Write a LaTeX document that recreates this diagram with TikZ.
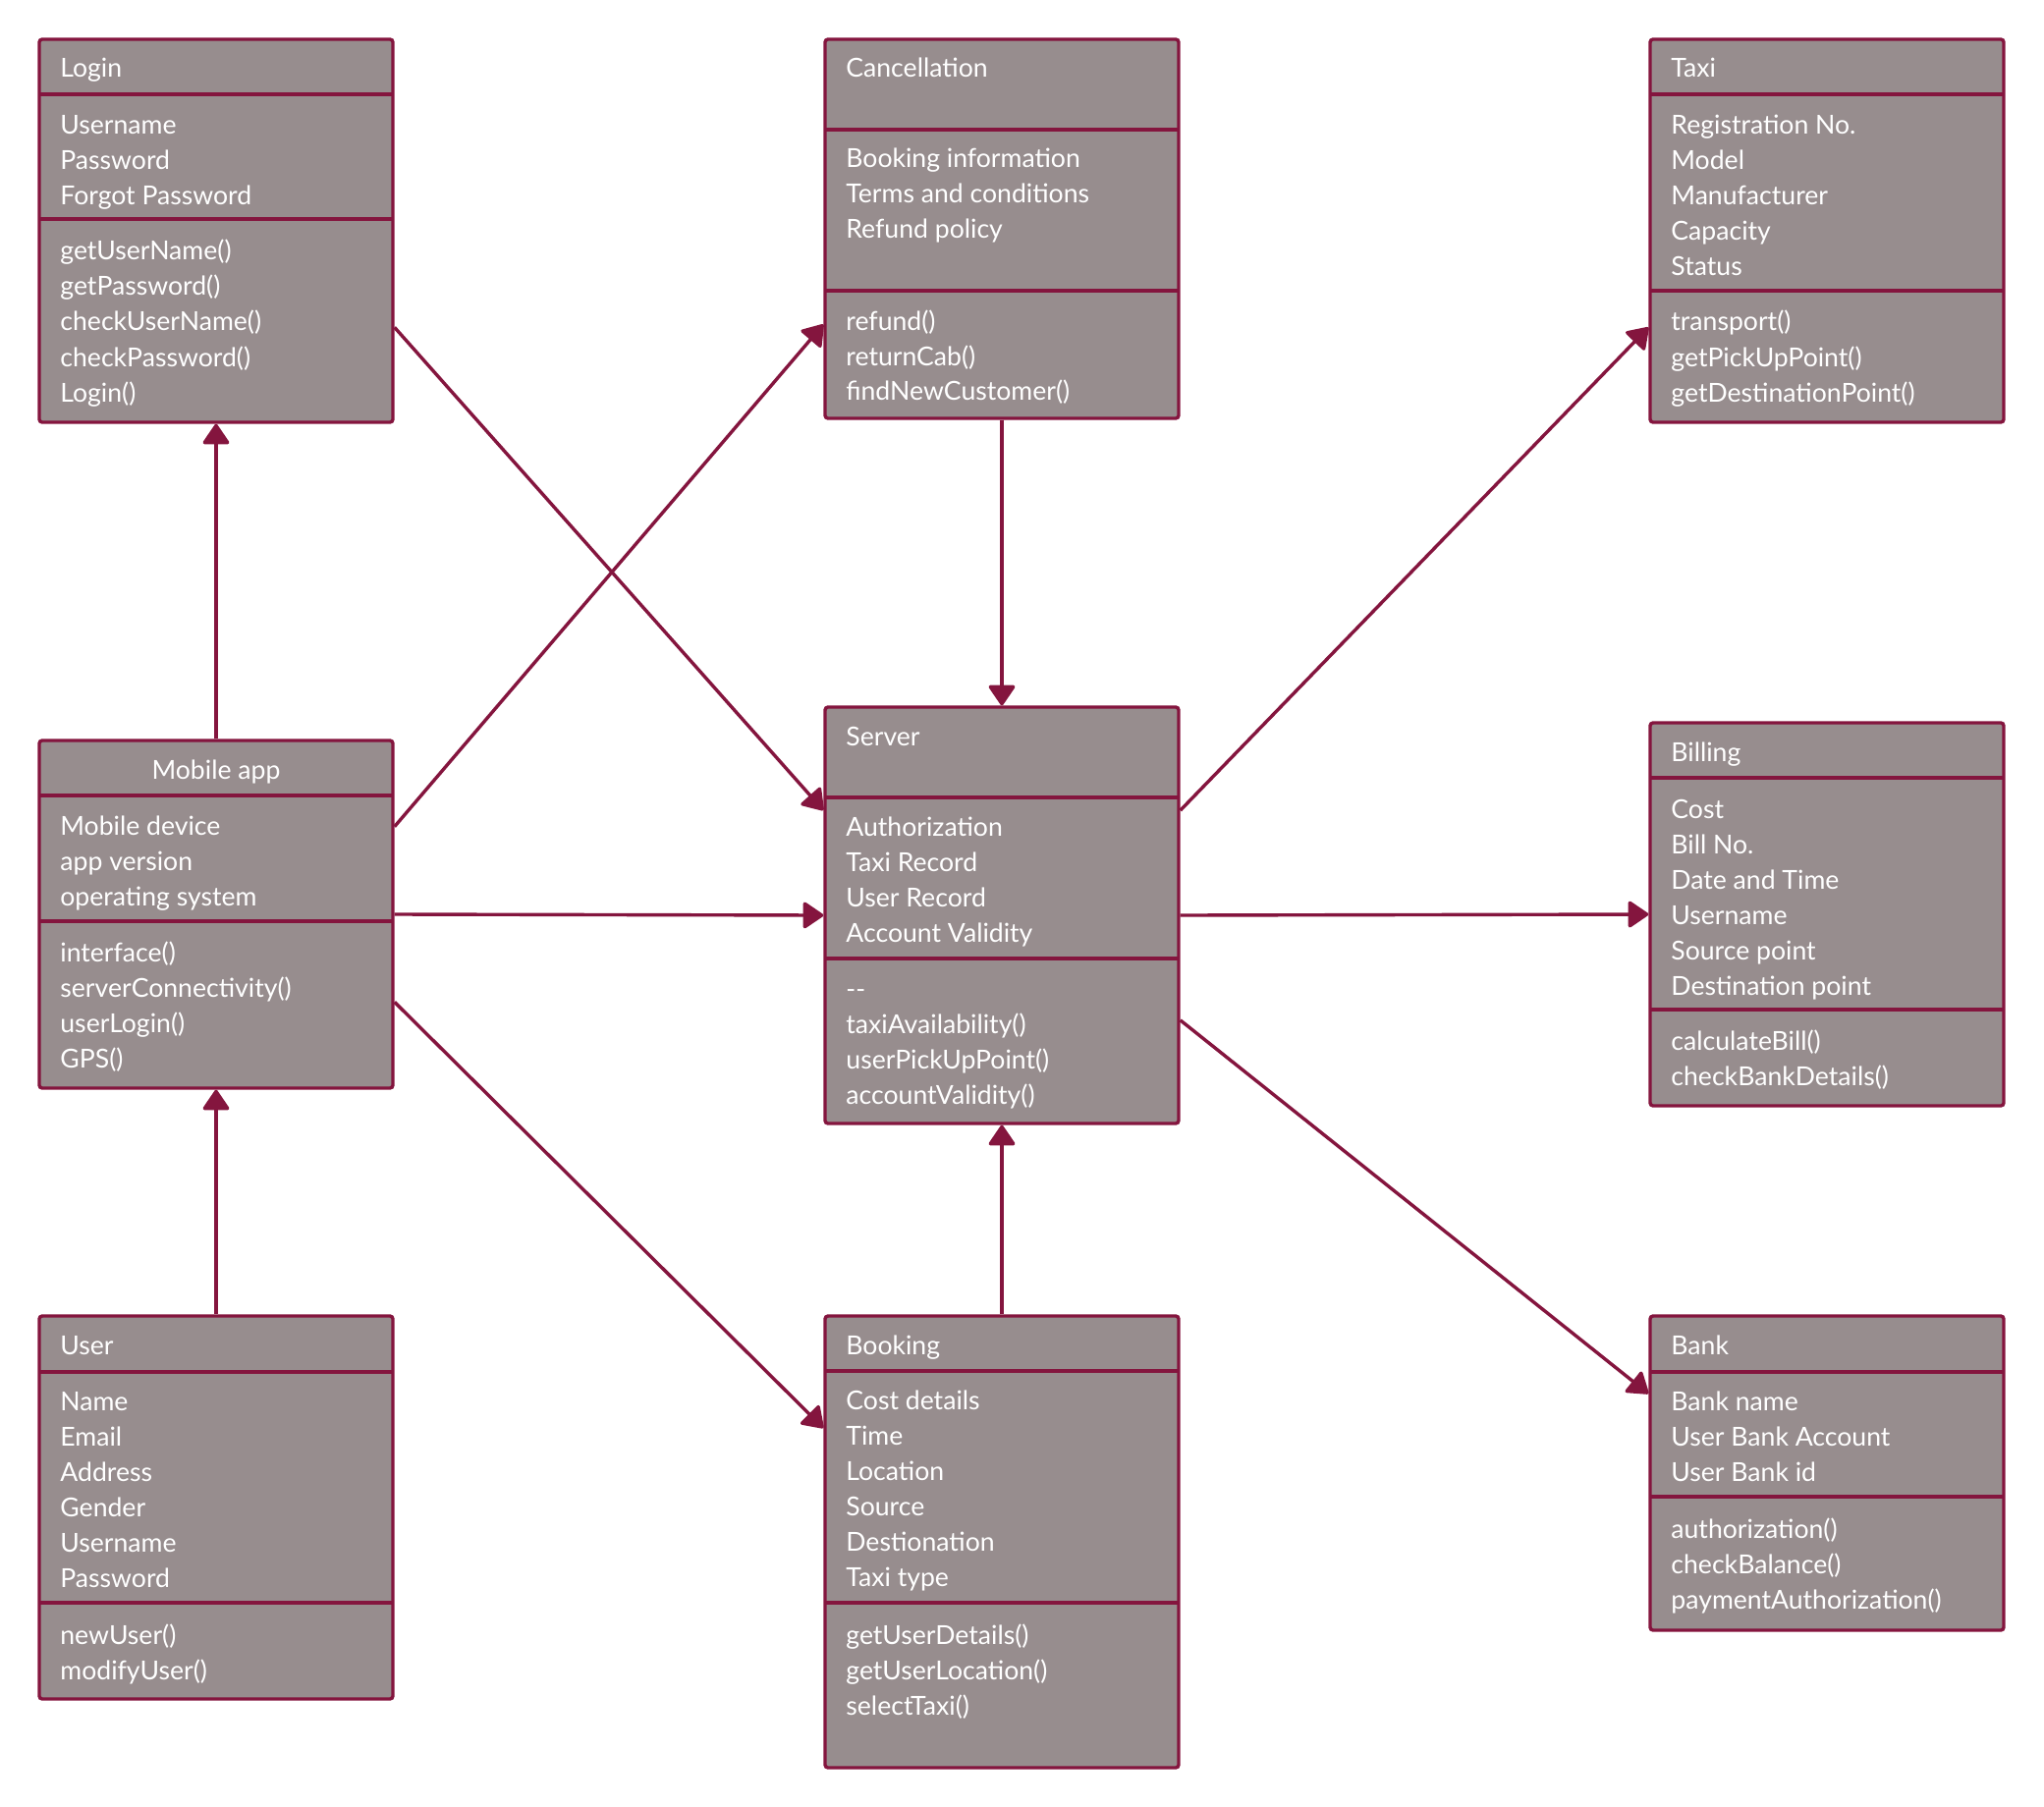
\documentclass[tikz,border=0pt]{standalone}
\usepackage{fontspec}
\setmainfont{Lato}
\usetikzlibrary{arrows.meta,calc,fit}
\definecolor{wine}{HTML}{84153E}
\definecolor{taupe}{HTML}{978D8E}
\tikzset{
  classbox/.style={draw=wine,fill=taupe,line width=1.7pt,rounded corners=1.5pt,inner sep=0pt},
  divider/.style={draw=wine,line width=1.7pt},
  member/.style={font=\fontsize{13.3pt}{18pt}\selectfont,text=white,anchor=base west,inner sep=0pt},
  link/.style={-{Triangle[length=11pt,width=14.5pt,round]},line width=1.7pt,draw=wine}
}
\begin{document}
\begin{tikzpicture}[x=0.5pt,y=-0.5pt]
  \useasboundingbox (0,0) rectangle (2081,1840);

  % Login
  \node[classbox,fit={(40,40)(400,430)}] (login) {};
  \draw[divider] (40,96) -- (400,96);
  \draw[divider] (40,223) -- (400,223);
  \node[member] (login-t) at (61,79) {Login};
  \foreach \t [count=\i from 0] in {Username,Password,Forgot Password}
    \node[member] (login-a\i) at (61,137+36*\i) {\t};
  \foreach \t [count=\i from 0] in {getUserName(),getPassword(),checkUserName(),checkPassword(),Login()}
    \node[member] (login-m\i) at (61,265+36*\i) {\t};

  % Cancellation
  \node[classbox,fit={(840,40)(1200,426)}] (cancel) {};
  \draw[divider] (840,132) -- (1200,132);
  \draw[divider] (840,296) -- (1200,296);
  \node[member] (cancel-t) at (861,79) {Cancellation};
  \foreach \t [count=\i from 0] in {Booking information,Terms and conditions,Refund policy}
    \node[member] (cancel-a\i) at (861,171+36*\i) {\t};
  \foreach \t [count=\i from 0] in {refund(),returnCab(),findNewCustomer()}
    \node[member] (cancel-m\i) at (861,336+36*\i) {\t};

  % Taxi
  \node[classbox,fit={(1680,40)(2040,430)}] (taxi) {};
  \draw[divider] (1680,96) -- (2040,96);
  \draw[divider] (1680,296) -- (2040,296);
  \node[member] (taxi-t) at (1701,79) {Taxi};
  \foreach \t [count=\i from 0] in {Registration No.,Model,Manufacturer,Capacity,Status}
    \node[member] (taxi-a\i) at (1701,137+36*\i) {\t};
  \foreach \t [count=\i from 0] in {transport(),getPickUpPoint(),getDestinationPoint()}
    \node[member] (taxi-m\i) at (1701,337+36*\i) {\t};

  % Mobile app
  \node[classbox,fit={(40,754)(400,1108)}] (mobile) {};
  \draw[divider] (40,810) -- (400,810);
  \draw[divider] (40,938) -- (400,938);
  \node[member,anchor=base] (mobile-t) at (220,793) {Mobile app};
  \foreach \t [count=\i from 0] in {Mobile device,app version,operating system}
    \node[member] (mobile-a\i) at (61,850+36*\i) {\t};
  \foreach \t [count=\i from 0] in {interface(),serverConnectivity(),userLogin(),GPS()}
    \node[member] (mobile-m\i) at (61,979+36*\i) {\t};

  % Server
  \node[classbox,fit={(840,720)(1200,1144)}] (server) {};
  \draw[divider] (840,812) -- (1200,812);
  \draw[divider] (840,976) -- (1200,976);
  \node[member] (server-t) at (861,759) {Server};
  \foreach \t [count=\i from 0] in {Authorization,Taxi Record,User Record,Account Validity}
    \node[member] (server-a\i) at (861,851+36*\i) {\t};
  \foreach \t [count=\i from 0] in {{-}{-},taxiAvailability(),userPickUpPoint(),accountValidity()}
    \node[member] (server-m\i) at (861,1016+36*\i) {\t};

  % Billing
  \node[classbox,fit={(1680,736)(2040,1126)}] (billing) {};
  \draw[divider] (1680,792) -- (2040,792);
  \draw[divider] (1680,1028) -- (2040,1028);
  \node[member] (billing-t) at (1701,775) {Billing};
  \foreach \t [count=\i from 0] in {Cost,Bill No.,Date and Time,Username,Source point,Destination point}
    \node[member] (billing-a\i) at (1701,833+36*\i) {\t};
  \foreach \t [count=\i from 0] in {calculateBill(),checkBankDetails()}
    \node[member] (billing-m\i) at (1701,1069+36*\i) {\t};

  % User
  \node[classbox,fit={(40,1340)(400,1730)}] (user) {};
  \draw[divider] (40,1397) -- (400,1397);
  \draw[divider] (40,1632) -- (400,1632);
  \node[member] (user-t) at (61,1379) {User};
  \foreach \t [count=\i from 0] in {Name,Email,Address,Gender,Username,Password}
    \node[member] (user-a\i) at (61,1436+36*\i) {\t};
  \foreach \t [count=\i from 0] in {newUser(),modifyUser()}
    \node[member] (user-m\i) at (61,1674+36*\i) {\t};

  % Booking
  \node[classbox,fit={(840,1340)(1200,1800)}] (booking) {};
  \draw[divider] (840,1396) -- (1200,1396);
  \draw[divider] (840,1632) -- (1200,1632);
  \node[member] (booking-t) at (861,1379) {Booking};
  \foreach \t [count=\i from 0] in {Cost details,Time,Location,Source,Destionation,Taxi type}
    \node[member] (booking-a\i) at (861,1435+36*\i) {\t};
  \foreach \t [count=\i from 0] in {getUserDetails(),getUserLocation(),selectTaxi()}
    \node[member] (booking-m\i) at (861,1674+36*\i) {\t};

  % Bank
  \node[classbox,fit={(1680,1340)(2040,1660)}] (bank) {};
  \draw[divider] (1680,1397) -- (2040,1397);
  \draw[divider] (1680,1524) -- (2040,1524);
  \node[member] (bank-t) at (1701,1379) {Bank};
  \foreach \t [count=\i from 0] in {Bank name,User Bank Account,User Bank id}
    \node[member] (bank-a\i) at (1701,1436+36*\i) {\t};
  \foreach \t [count=\i from 0] in {authorization(),checkBalance(),paymentAuthorization()}
    \node[member] (bank-m\i) at (1701,1566+36*\i) {\t};

  % associations
  \draw[link] (mobile.north) -- (login.south);
  \draw[link] (user.north) -- (mobile.south);
  \draw[link] ($(login.north east)!0.75!(login.south east)$) -- ($(server.north west)!0.25!(server.south west)$);
  \draw[link] ($(mobile.north east)!0.25!(mobile.south east)$) -- ($(cancel.north west)!0.75!(cancel.south west)$);
  \draw[link] (mobile.east) -- (server.west);
  \draw[link] ($(mobile.north east)!0.75!(mobile.south east)$) -- ($(booking.north west)!0.25!(booking.south west)$);
  \draw[link] (cancel.south) -- (server.north);
  \draw[link] (booking.north) -- (server.south);
  \draw[link] ($(server.north east)!0.25!(server.south east)$) -- ($(taxi.north west)!0.75!(taxi.south west)$);
  \draw[link] (server.east) -- (billing.west);
  \draw[link] ($(server.north east)!0.75!(server.south east)$) -- ($(bank.north west)!0.25!(bank.south west)$);
\end{tikzpicture}
\end{document}
